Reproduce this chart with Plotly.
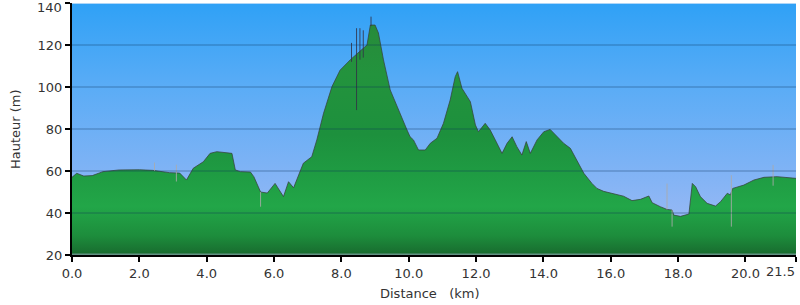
import plotly.graph_objects as go

# Elevation profile (km, m)
distance_km = [0.0, 0.14, 0.35, 0.6, 0.92, 1.4, 2.0, 2.4, 2.9, 3.2, 3.4, 3.6, 3.9, 4.1, 4.3, 4.6,
               4.75, 4.85, 5.0, 5.3, 5.4, 5.6, 5.8, 6.03, 6.28, 6.43, 6.58, 6.87, 7.12, 7.27, 7.47,
               7.72, 7.96, 8.26, 8.41, 8.61, 8.76, 8.86, 9.0, 9.1, 9.25, 9.45, 9.65, 9.95, 10.04,
               10.14, 10.29, 10.49, 10.64, 10.84, 11.03, 11.23, 11.38, 11.45, 11.58, 11.73, 11.83,
               11.98, 12.07, 12.27, 12.42, 12.57, 12.77, 12.92, 13.07, 13.21, 13.36, 13.49, 13.61,
               13.81, 14.01, 14.2, 14.4, 14.6, 14.8, 15.0, 15.2, 15.44, 15.59, 15.79, 16.09, 16.38,
               16.63, 16.88, 17.13, 17.23, 17.47, 17.67, 17.82, 17.87, 18.07, 18.32, 18.42, 18.52,
               18.66, 18.86, 19.11, 19.26, 19.46, 19.55, 19.62, 19.95, 20.25, 20.55, 20.94, 21.24, 21.5]
elevation_m = [57, 58.9, 57.6, 57.8, 59.7, 60.5, 60.6, 60.3, 59.2, 59, 55.7, 61.3, 64.4, 68.4, 69.2, 68.6,
               68.4, 60.5, 59.7, 59.5, 57.3, 50, 49.5, 54.1, 47.8, 54.9, 52, 63.7, 66.8, 74.8, 87.5,
               100.2, 108, 112.9, 115, 117.6, 120, 129.5, 129.5, 125.7, 112.9, 98.6, 90.6, 79.5, 76.3,
               74.8, 70, 70, 73.2, 75.6, 82.7, 93.8, 104.9, 107.3, 99.4, 95.4, 93,
               81.9, 78.7, 82.7, 79.5, 74.8, 68.4, 73.2, 76.3, 71.6, 67.6, 74, 68.4,
               74.8, 78.7, 79.8, 76.3, 73.2, 70.8, 65.2, 58.9, 54.1, 51.7, 50.3, 49, 48,
               45.9, 46.5, 48.1, 44.9, 43, 41.7, 41.4, 39, 38.4, 39.5, 54.1, 52.5,
               47.8, 44.6, 43.3, 45.4, 49.4, 48.6, 51.7, 53.3, 55.7, 57, 57.3, 57, 56.5]

# Raw-data spikes (km, low, high)
light_spike_km = [2.45, 3.1, 5.6, 17.67, 17.82, 19.58, 20.82]
light_spike_low = [60, 55, 43, 41.7, 33.5, 33.5, 53]
light_spike_high = [64, 63, 50, 54, 41.4, 58, 62.9]
dark_spike_km = [8.3, 8.45, 8.55, 8.65, 8.88]
dark_spike_low = [112, 89, 113, 114, 129]
dark_spike_high = [121, 128, 128, 127, 133.5]

x_tickvals = [0, 2, 4, 6, 8, 10, 12, 14, 16, 18, 20, 21.5]
x_ticktext = ["0.0", "2.0", "4.0", "6.0", "8.0", "10.0", "12.0", "14.0", "16.0", "18.0", "20.0", "21.5"]
y_tickvals = [20, 40, 60, 80, 100, 120, 140]
y_ticktext = ["20", "40", "60", "80", "100", "120", "140"]
grid_vals = [40, 60, 80, 100, 120]

X_MAX = 21.5
Y_MIN, Y_MAX = 20, 140


def spike_xy(kms, lows, highs):
    xs, ys = [], []
    for k, lo, hi in zip(kms, lows, highs):
        xs += [k, k, None]
        ys += [lo, hi, None]
    return xs, ys


fig = go.Figure()

# sky background
fig.add_trace(go.Scatter(
    x=[0, X_MAX], y=[Y_MAX, Y_MAX], mode="lines", line=dict(width=0),
    fill="tozeroy",
    fillgradient=dict(type="vertical", start=Y_MIN, stop=Y_MAX,
                      colorscale=[[0, "#a6bcf4"], [0.33, "#80b3f5"], [0.67, "#5aacf6"], [1, "#2fa1f6"]]),
    hoverinfo="skip", showlegend=False))

# terrain
fig.add_trace(go.Scatter(
    x=distance_km, y=elevation_m, mode="lines",
    line=dict(color="rgba(55,65,60,0.75)", width=1),
    fill="tozeroy",
    fillgradient=dict(type="vertical", start=Y_MIN, stop=135,
                      colorscale=[[0, "#186a2e"], [0.08, "#1d8d3c"], [0.2, "#22a648"],
                                  [0.33, "#1f9c43"], [0.5, "#1d903d"], [0.75, "#23933d"],
                                  [1, "#28893a"]]),
    hoverinfo="skip", showlegend=False))

sx, sy = spike_xy(light_spike_km, light_spike_low, light_spike_high)
fig.add_trace(go.Scatter(x=sx, y=sy, mode="lines",
                         line=dict(color="rgba(170,170,170,0.85)", width=1),
                         hoverinfo="skip", showlegend=False))
dx, dy = spike_xy(dark_spike_km, dark_spike_low, dark_spike_high)
fig.add_trace(go.Scatter(x=dx, y=dy, mode="lines",
                         line=dict(color="rgba(50,50,70,0.85)", width=1),
                         hoverinfo="skip", showlegend=False))

shapes = []
for g in grid_vals:
    shapes.append(dict(type="line", xref="x", yref="y", x0=0, x1=X_MAX, y0=g, y1=g,
                       line=dict(color="rgba(10,50,90,0.28)", width=1.5), layer="above"))
shapes.append(dict(type="line", xref="x", yref="y", x0=0, x1=X_MAX, y0=Y_MAX, y1=Y_MAX,
                   line=dict(color="rgba(235,240,250,0.9)", width=1.5), layer="above"))
shapes.append(dict(type="line", xref="x", yref="y", x0=0, x1=X_MAX, y0=Y_MIN + 0.4, y1=Y_MIN + 0.4,
                   line=dict(color="rgba(150,170,190,0.9)", width=1), layer="above"))

font = dict(family="DejaVu Sans, Verdana, sans-serif", size=13, color="#333333")

# edge tick labels are placed as annotations so they stay inside the page
x_axis_text = x_ticktext[:-1] + [""]
y_axis_text = y_ticktext[:-1] + [""]

annotations = [
    dict(text="Distance   (km)", xref="paper", yref="paper", x=0.495, y=0, yshift=-38,
         xanchor="center", yanchor="middle", showarrow=False, font=font),
    dict(text="Hauteur (m)", xref="paper", yref="paper", x=0, xshift=-57, y=0.5,
         xanchor="center", yanchor="middle", textangle=-90, showarrow=False, font=font),
    dict(text=x_ticktext[-1], xref="x", yref="paper", x=x_tickvals[-1], y=0, yshift=-16,
         xanchor="right", yanchor="middle", xshift=1, showarrow=False, font=font),
    dict(text=y_ticktext[-1], xref="paper", yref="y", x=0, xshift=-8, y=y_tickvals[-1], yshift=-4,
         xanchor="right", yanchor="middle", showarrow=False, font=font),
]

fig.update_layout(
    width=800, height=305,
    margin=dict(l=72, r=4, t=3, b=50, autoexpand=False),
    paper_bgcolor="white", plot_bgcolor="white",
    font=font,
    shapes=shapes,
    annotations=annotations,
    xaxis=dict(range=[0, X_MAX], tickvals=x_tickvals, ticktext=x_axis_text, automargin=False,
               showgrid=False, zeroline=False, showline=True, linecolor="black", linewidth=2,
               ticks="outside", ticklen=5, tickwidth=2, tickcolor="black",
               ticklabeloverflow="allow"),
    yaxis=dict(range=[Y_MIN, Y_MAX], tickvals=y_tickvals, ticktext=y_axis_text, automargin=False,
               showgrid=False, zeroline=False, showline=True, linecolor="black", linewidth=2,
               ticks="outside", ticklen=5, tickwidth=2, tickcolor="black",
               ticklabeloverflow="allow"),
)

fig.write_html("out.html")
